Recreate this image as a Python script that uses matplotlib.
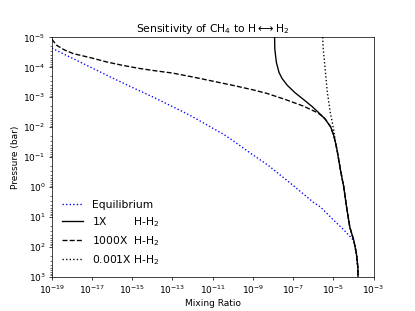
import numpy as np
import matplotlib
matplotlib.use('Agg')
import matplotlib.pyplot as plt

# log10 values (mixing ratio, pressure in bar)

# shared deep part where all runs sit on the same profile
tail_logx = [-4.90, -4.81, -4.64, -4.48, -4.34, -4.18, -3.98, -3.85, -3.78, -3.77]
tail_logp = [-1.5, -1.22, -0.55, 0.0, 0.67, 1.34, 1.79, 2.23, 2.68, 3.0]

eq_logx = [-19, -18, -17, -16, -15, -14, -13, -12.45, -12, -11, -10.5, -10, -9.13, -8.22, -7, -6,
           -5.64, -5, -4.5, -4.06, -3.95] + tail_logx[-3:]
eq_logp = [-4.63, -4.30, -3.97, -3.64, -3.32, -3.01, -2.68, -2.50, -2.34, -1.96, -1.77, -1.55, -1.13, -0.71,
           -0.05, 0.51, 0.67, 1.10, 1.42, 1.73, 1.86] + tail_logp[-3:]

x1_logx = [-7.92, -7.91, -7.83, -7.70, -7.55, -7.30, -6.90, -6.45, -6.05, -5.70, -5.40, -5.13,
           -4.98] + tail_logx
x1_logp = [-5.0, -4.6, -4.15, -3.82, -3.62, -3.40, -3.14, -2.90, -2.68, -2.46, -2.26, -2.0,
           -1.72] + tail_logp

x1000_logx = [-19, -18.77, -18.4, -17.94, -17, -16.27, -15.5, -14.61, -13.8, -13, -12, -11, -10, -9,
              -8.3, -7.4, -6.5, -5.8, -5.5, -5.40, -5.13, -4.98] + tail_logx
x1000_logp = [-4.93, -4.73, -4.58, -4.45, -4.30, -4.17, -4.06, -3.95, -3.87, -3.80, -3.67, -3.53, -3.39, -3.24,
              -3.12, -2.92, -2.70, -2.48, -2.34, -2.26, -2.0, -1.72] + tail_logp

x0001_logx = [-5.53, -5.50, -5.43, -5.37, -5.31, -5.22, -5.14, -5.05, -4.98, -4.93] + tail_logx
x0001_logp = [-5.0, -4.6, -4.12, -3.7, -3.23, -2.8, -2.45, -2.15, -1.9, -1.68] + tail_logp

fig, ax = plt.subplots(figsize=(6.4, 4.8), dpi=415 / 6.4)

ax.plot(10 ** np.array(eq_logx), 10 ** np.array(eq_logp), color='b', linestyle=':', label='Equilibrium')
ax.plot(10 ** np.array(x1_logx), 10 ** np.array(x1_logp), color='k', linestyle='-',
        label='1X        H-H$_2$')
ax.plot(10 ** np.array(x1000_logx), 10 ** np.array(x1000_logp), color='k', linestyle='--',
        label='1000X  H-H$_2$')
ax.plot(10 ** np.array(x0001_logx), 10 ** np.array(x0001_logp), color='k', linestyle=':',
        label='0.001X H-H$_2$')

ax.set_xscale('log')
ax.set_yscale('log')
ax.set_xlim(1e-19, 1e-3)
ax.set_ylim(1e3, 1e-5)
ax.set_xlabel('Mixing Ratio')
ax.set_ylabel('Pressure (bar)')
ax.set_title(r'Sensitivity of CH$_4$ to H$\longleftrightarrow$H$_2$')
ax.legend(loc='lower left', frameon=False, fontsize=12)

fig.savefig('out.png')
